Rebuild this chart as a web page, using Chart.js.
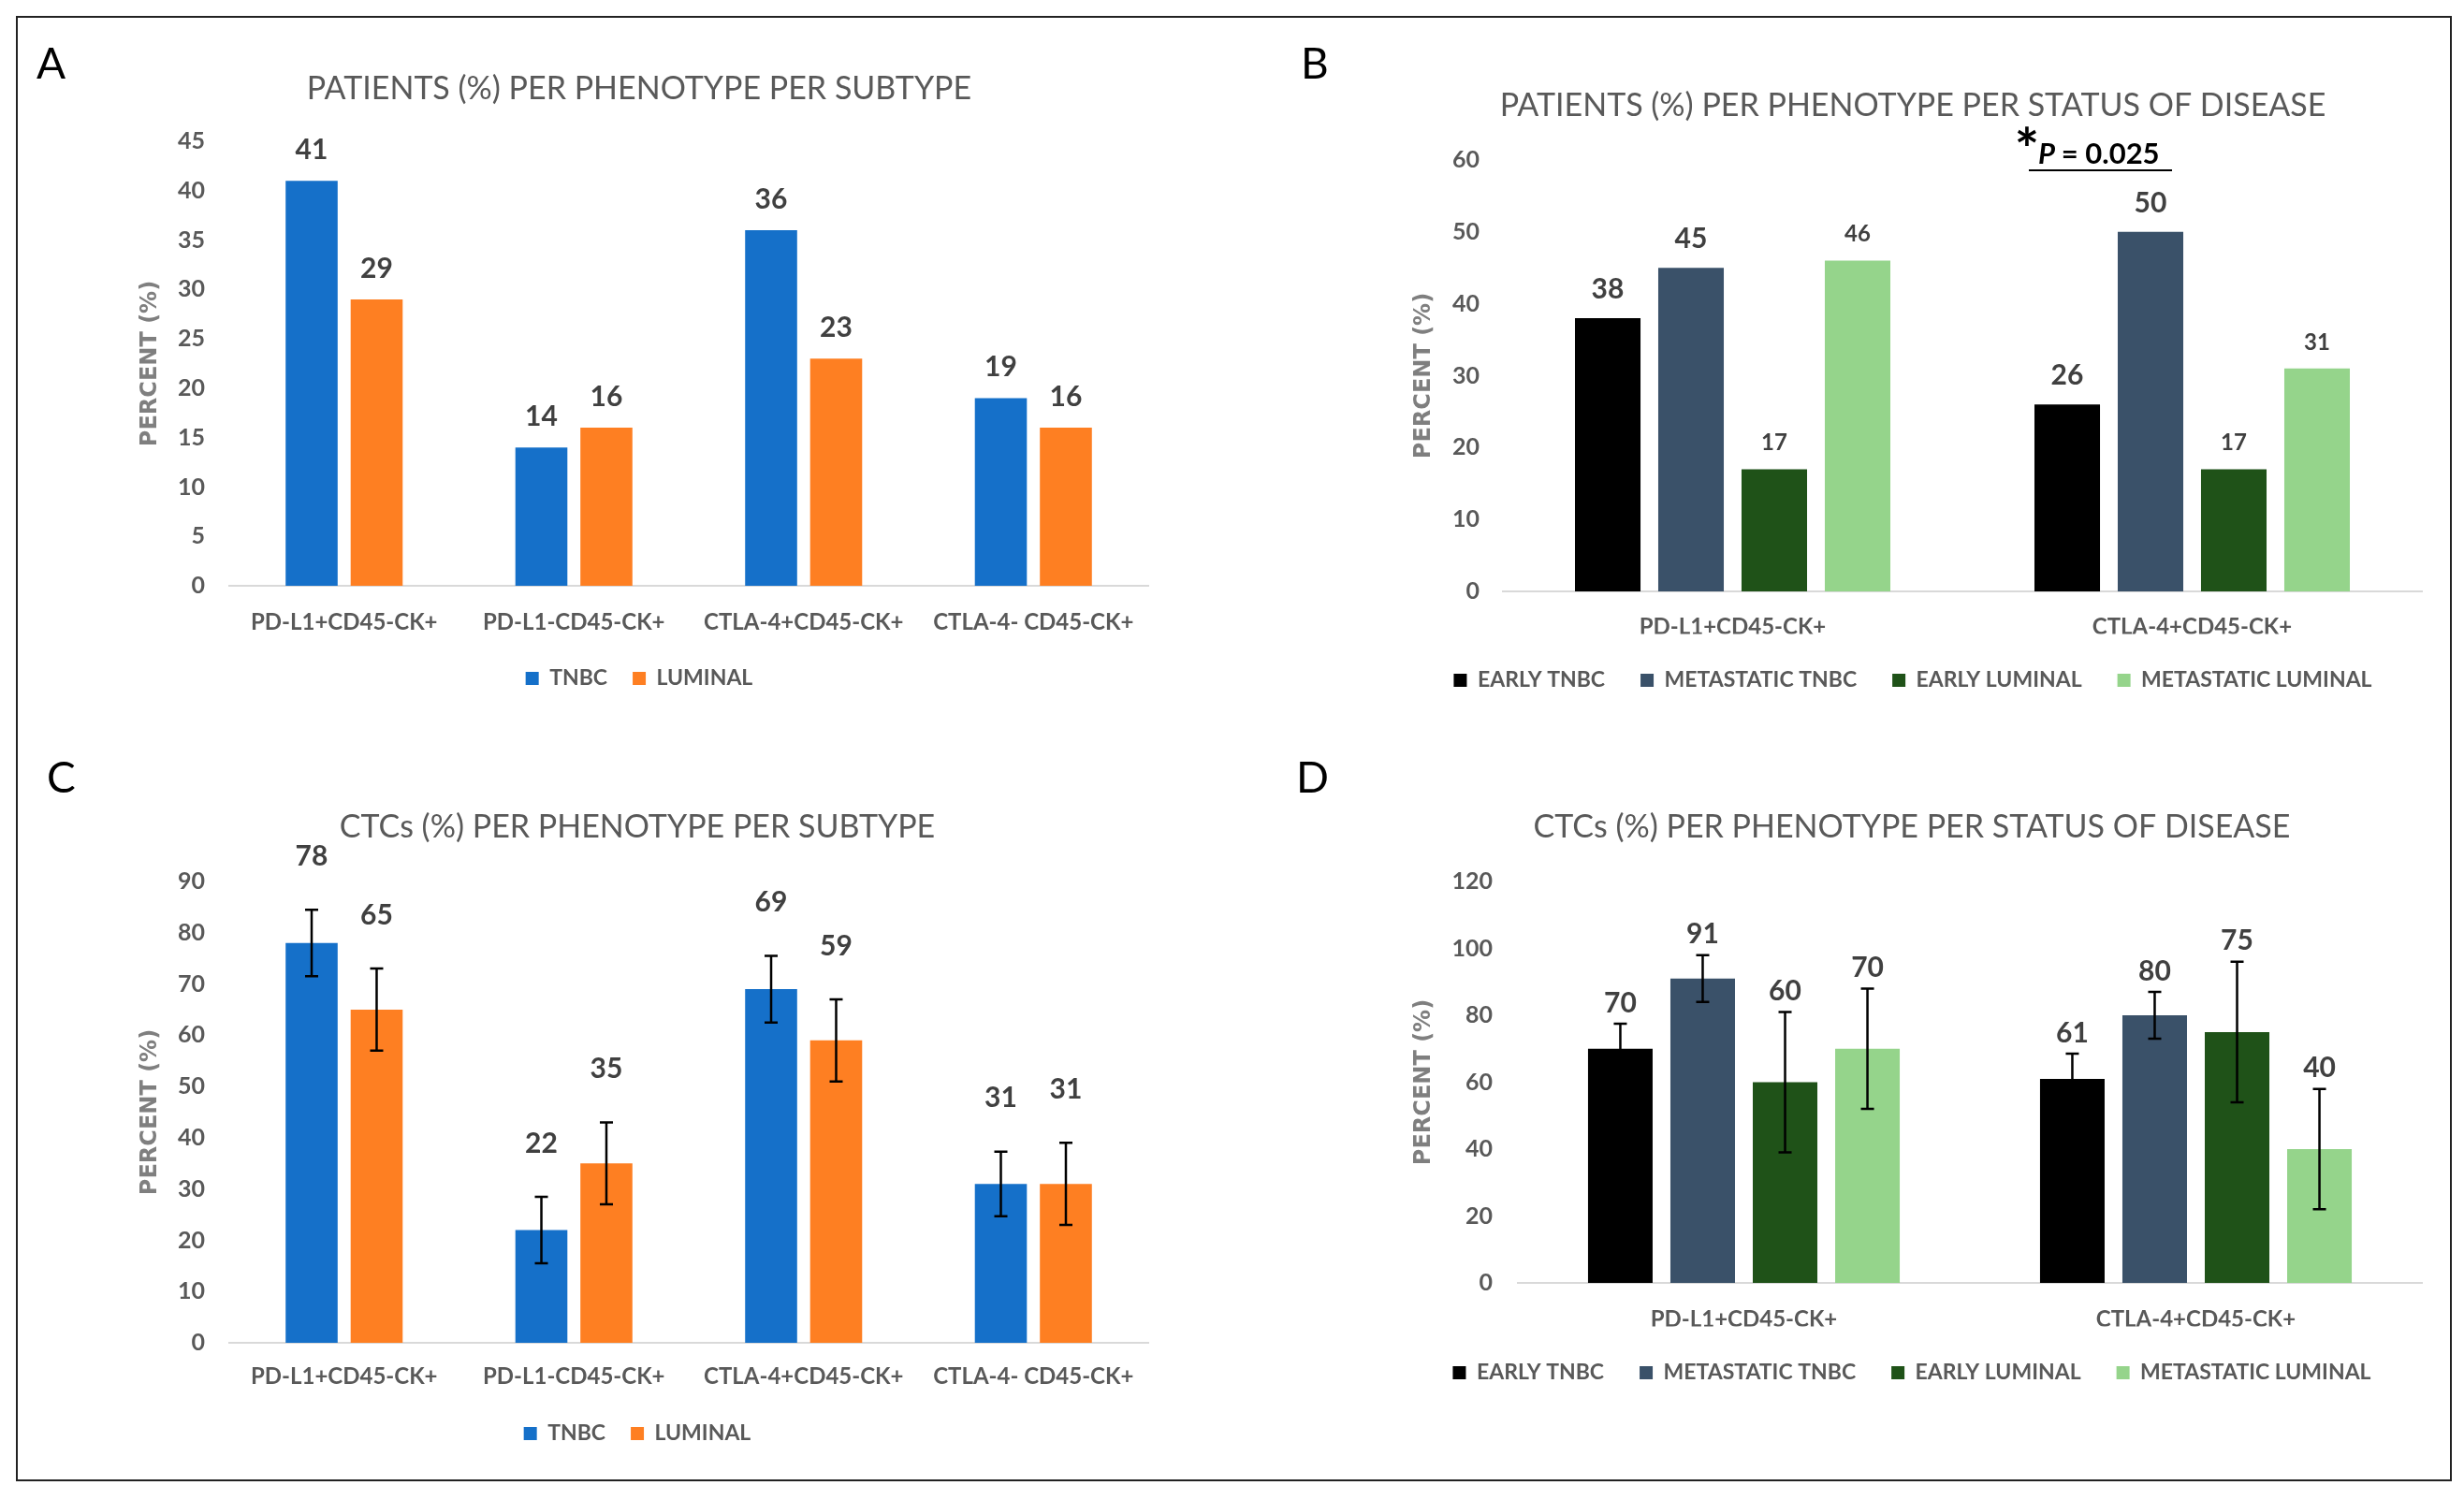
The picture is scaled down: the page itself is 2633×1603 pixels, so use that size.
<!DOCTYPE html>
<html>
<head>
<meta charset="utf-8">
<script src="https://cdn.jsdelivr.net/npm/chart.js@4.4.1/dist/chart.umd.min.js"></script>
<style>
  body { margin: 0; background: #fff; }
  #page { position: relative; width: 2633px; height: 1603px; background: #fff; }
  #frame { position: absolute; left: 17px; top: 17px; width: 2603px; height: 1566px; border: 2px solid #222; box-sizing: border-box; }
  canvas { position: absolute; }
</style>
</head>
<body>
<div id="page">
  <div id="frame"></div>
  <canvas id="chartA" width="1300" height="783" style="left:17px;top:17px"></canvas>
  <canvas id="chartB" width="1303" height="783" style="left:1317px;top:17px"></canvas>
  <canvas id="chartC" width="1300" height="783" style="left:17px;top:800px"></canvas>
  <canvas id="chartD" width="1303" height="783" style="left:1317px;top:800px"></canvas>
</div>
<script>
// categories
const subtypeCategories = ["PD-L1+CD45-CK+", "PD-L1-CD45-CK+", "CTLA-4+CD45-CK+", "CTLA-4- CD45-CK+"];
const statusCategories = ["PD-L1+CD45-CK+", "CTLA-4+CD45-CK+"];

// A: patients per subtype
const patientsTnbc = [41, 14, 36, 19];
const patientsLuminal = [29, 16, 23, 16];

// B: patients per status of disease
const patientsEarlyTnbc = [38, 26];
const patientsMetTnbc = [45, 50];
const patientsEarlyLuminal = [17, 17];
const patientsMetLuminal = [46, 31];

// C: CTCs per subtype (+ error)
const ctcTnbc = [78, 22, 69, 31];
const ctcLuminal = [65, 35, 59, 31];
const ctcTnbcErr = [6.5, 6.5, 6.5, 6.3];
const ctcLuminalErr = [8, 8, 8, 8];

// D: CTCs per status of disease (+ error)
const ctcEarlyTnbc = [70, 61];
const ctcMetTnbc = [91, 80];
const ctcEarlyLuminal = [60, 75];
const ctcMetLuminal = [70, 40];
const ctcEarlyTnbcErr = [7.5, 7.5];
const ctcMetTnbcErr = [7, 7];
const ctcEarlyLuminalErr = [21, 21];
const ctcMetLuminalErr = [18, 18];

// y axis ranges
const yMaxA = 45, yStepA = 5;
const yMaxB = 60, yStepB = 10;
const yMaxC = 90, yStepC = 10;
const yMaxD = 120, yStepD = 20;

const COLORS = {
  tnbc: "#1570c9",
  luminal: "#fe7f22",
  earlyTnbc: "#000000",
  metTnbc: "#3a5169",
  earlyLum: "#1f5218",
  metLum: "#95d48b",
};
const TEXT = "#595959";
const FONT = "Lato, 'Open Sans', sans-serif";

const errorBars = {
  id: "errorBars",
  afterDatasetsDraw(chart) {
    const { ctx } = chart;
    const y = chart.scales.y;
    chart.data.datasets.forEach((ds, i) => {
      if (!ds.errors) return;
      chart.getDatasetMeta(i).data.forEach((bar, j) => {
        const v = ds.data[j];
        const e = ds.errors[j];
        const top = y.getPixelForValue(v + e);
        const bottom = y.getPixelForValue(v - e);
        ctx.save();
        ctx.strokeStyle = "#000";
        ctx.lineWidth = 2.5;
        ctx.beginPath();
        ctx.moveTo(bar.x, top);
        ctx.lineTo(bar.x, bottom);
        ctx.moveTo(bar.x - 7, top);
        ctx.lineTo(bar.x + 7, top);
        ctx.moveTo(bar.x - 7, bottom);
        ctx.lineTo(bar.x + 7, bottom);
        ctx.stroke();
        ctx.restore();
      });
    });
  },
};

const valueLabels = {
  id: "valueLabels",
  afterDatasetsDraw(chart, args, opts) {
    const { ctx } = chart;
    const y = chart.scales.y;
    chart.data.datasets.forEach((ds, i) => {
      chart.getDatasetMeta(i).data.forEach((bar, j) => {
        const v = ds.data[j];
        const top = y.getPixelForValue(v + (ds.errors ? ds.errors[j] : 0));
        ctx.save();
        ctx.font = `bold ${ds.labelSize || opts.size}px ${FONT}`;
        ctx.fillStyle = "#404040";
        ctx.textAlign = "center";
        ctx.textBaseline = "middle";
        ctx.fillText(String(v), bar.x, top - (ds.labelGap || opts.gap));
        ctx.restore();
      });
    });
  },
};

const panelText = {
  id: "panelText",
  afterDraw(chart, args, opts) {
    const { ctx } = chart;
    ctx.save();
    ctx.fillStyle = "#000";
    ctx.font = `46px ${FONT}`;
    ctx.textAlign = "left";
    ctx.textBaseline = "alphabetic";
    ctx.fillText(opts.letter, opts.x, opts.y);

    if (opts.note) {
      // significance line across the first two bars of the chosen category
      const n = opts.note;
      const b0 = chart.getDatasetMeta(0).data[n.index];
      const b1 = chart.getDatasetMeta(1).data[n.index];
      const x0 = b0.x - b0.width / 2 - 6;
      const x1 = b1.x + b1.width / 2 - 12;
      ctx.strokeStyle = "#000";
      ctx.lineWidth = 2;
      ctx.beginPath();
      ctx.moveTo(x0, n.lineY);
      ctx.lineTo(x1, n.lineY);
      ctx.stroke();

      ctx.font = `bold 62px ${FONT}`;
      const m = ctx.measureText("*");
      const midOff = (m.actualBoundingBoxAscent - m.actualBoundingBoxDescent) / 2;
      ctx.textAlign = "center";
      ctx.fillText("*", x0 - 2, n.lineY - 37 + midOff);
      ctx.textAlign = "left";

      ctx.font = `italic bold 31px ${FONT}`;
      ctx.fillText("P", x0 + 10, n.lineY - 7);
      const pw = ctx.measureText("P ").width;
      ctx.font = `bold 31px ${FONT}`;
      ctx.fillText("= 0.025", x0 + 10 + pw, n.lineY - 7);
    }
    ctx.restore();
  },
};

function makeChart(id, cfg) {
  const tf = 34;
  return new Chart(document.getElementById(id), {
    type: "bar",
    data: { labels: cfg.labels, datasets: cfg.datasets },
    options: {
      responsive: false,
      animation: false,
      devicePixelRatio: 1,
      layout: { padding: { left: cfg.padL, right: cfg.padR, top: 0, bottom: cfg.padB } },
      datasets: { bar: { categoryPercentage: cfg.catPct, barPercentage: cfg.barPct } },
      plugins: {
        title: {
          display: true,
          text: cfg.title,
          color: TEXT,
          font: { family: FONT, size: tf, weight: "normal" },
          padding: { top: cfg.titleY - tf * 0.6, bottom: cfg.top - cfg.titleY - tf * 0.6 },
        },
        legend: {
          position: "bottom",
          labels: {
            color: TEXT,
            font: { family: FONT, size: 23, weight: "bold" },
            boxWidth: 14,
            boxHeight: 14,
            padding: cfg.legendPad,
          },
        },
        tooltip: { enabled: false },
        valueLabels: { size: 30, gap: cfg.labelGap },
        panelText: { letter: cfg.letter, x: cfg.letterX, y: cfg.letterY, note: cfg.note },
      },
      scales: {
        x: {
          grid: { display: false, drawTicks: false },
          border: { display: true, color: "#d9d9d9", width: 2 },
          ticks: {
            color: TEXT,
            font: { family: FONT, size: 24, weight: "bold" },
            padding: cfg.xTickPad,
            maxRotation: 0,
            minRotation: 0,
            autoSkip: false,
          },
          afterFit: (s) => { s.height = cfg.xH; },
        },
        y: {
          min: 0,
          max: cfg.yMax,
          grid: { display: false, drawTicks: false },
          border: { display: false },
          ticks: {
            stepSize: cfg.yStep,
            color: TEXT,
            font: { family: FONT, size: 25, weight: "bold" },
            padding: cfg.yTickPad,
          },
          title: {
            display: true,
            text: "PERCENT (%)",
            color: "#7f7f7f",
            font: { family: "'DejaVu Sans', sans-serif", size: 24, weight: "bold" },
            padding: { top: cfg.yTitlePad, bottom: 0 },
          },
          afterFit: (s) => { s.width = cfg.yW; },
        },
      },
    },
    plugins: [errorBars, valueLabels, panelText],
  });
}

makeChart("chartA", {
  labels: subtypeCategories,
  datasets: [
    { label: "TNBC", data: patientsTnbc, backgroundColor: COLORS.tnbc },
    { label: "LUMINAL", data: patientsLuminal, backgroundColor: COLORS.luminal },
  ],
  title: "PATIENTS (%) PER PHENOTYPE PER SUBTYPE",
  yMax: yMaxA, yStep: yStepA,
  padL: 122, padR: 90, yW: 106, yTitlePad: 7.6, yTickPad: 26,
  titleY: 78, top: 134,
  xH: 60.5, padB: 53.5, xTickPad: 24.6, legendPad: 27,
  catPct: 0.566, barPct: 0.8, labelGap: 33,
  letter: "A", letterX: 22, letterY: 67,
});

makeChart("chartB", {
  labels: statusCategories,
  datasets: [
    { label: "EARLY TNBC", data: patientsEarlyTnbc, backgroundColor: COLORS.earlyTnbc },
    { label: "METASTATIC TNBC", data: patientsMetTnbc, backgroundColor: COLORS.metTnbc },
    { label: "EARLY LUMINAL", data: patientsEarlyLuminal, backgroundColor: COLORS.earlyLum, labelSize: 24, labelGap: 28 },
    { label: "METASTATIC LUMINAL", data: patientsMetLuminal, backgroundColor: COLORS.metLum, labelSize: 24, labelGap: 28 },
  ],
  title: "PATIENTS (%) PER PHENOTYPE PER STATUS OF DISEASE",
  yMax: yMaxB, yStep: yStepB,
  padL: 183, padR: 32, yW: 106, yTitlePad: 7.6, yTickPad: 25,
  titleY: 96, top: 154,
  xH: 45.5, padB: 51.5, xTickPad: 23.6, legendPad: 38,
  catPct: 0.725, barPct: 0.787, labelGap: 31,
  letter: "B", letterX: 73, letterY: 67,
  note: { index: 1, lineY: 165 },
});

makeChart("chartC", {
  labels: subtypeCategories,
  datasets: [
    { label: "TNBC", data: ctcTnbc, errors: ctcTnbcErr, backgroundColor: COLORS.tnbc },
    { label: "LUMINAL", data: ctcLuminal, errors: ctcLuminalErr, backgroundColor: COLORS.luminal },
  ],
  title: "CTCs (%) PER PHENOTYPE PER SUBTYPE",
  yMax: yMaxC, yStep: yStepC,
  padL: 118, padR: 90, yW: 110, yTitlePad: 11.6, yTickPad: 26,
  titleY: 84, top: 142,
  xH: 58.5, padB: 29.5, xTickPad: 21.6, legendPad: 27,
  catPct: 0.566, barPct: 0.8, labelGap: 57,
  letter: "C", letterX: 33, letterY: 47,
});

makeChart("chartD", {
  labels: statusCategories,
  datasets: [
    { label: "EARLY TNBC", data: ctcEarlyTnbc, errors: ctcEarlyTnbcErr, backgroundColor: COLORS.earlyTnbc },
    { label: "METASTATIC TNBC", data: ctcMetTnbc, errors: ctcMetTnbcErr, backgroundColor: COLORS.metTnbc },
    { label: "EARLY LUMINAL", data: ctcEarlyLuminal, errors: ctcEarlyLuminalErr, backgroundColor: COLORS.earlyLum },
    { label: "METASTATIC LUMINAL", data: ctcMetLuminal, errors: ctcMetLuminalErr, backgroundColor: COLORS.metLum },
  ],
  title: "CTCs (%) PER PHENOTYPE PER STATUS OF DISEASE",
  yMax: yMaxD, yStep: yStepD,
  padL: 181, padR: 32, yW: 124, yTitlePad: 9.6, yTickPad: 27,
  titleY: 84, top: 142,
  xH: 46.5, padB: 94.5, xTickPad: 24.6, legendPad: 38,
  catPct: 0.729, barPct: 0.784, labelGap: 22,
  letter: "D", letterX: 68, letterY: 47,
});
</script>
</body>
</html>
